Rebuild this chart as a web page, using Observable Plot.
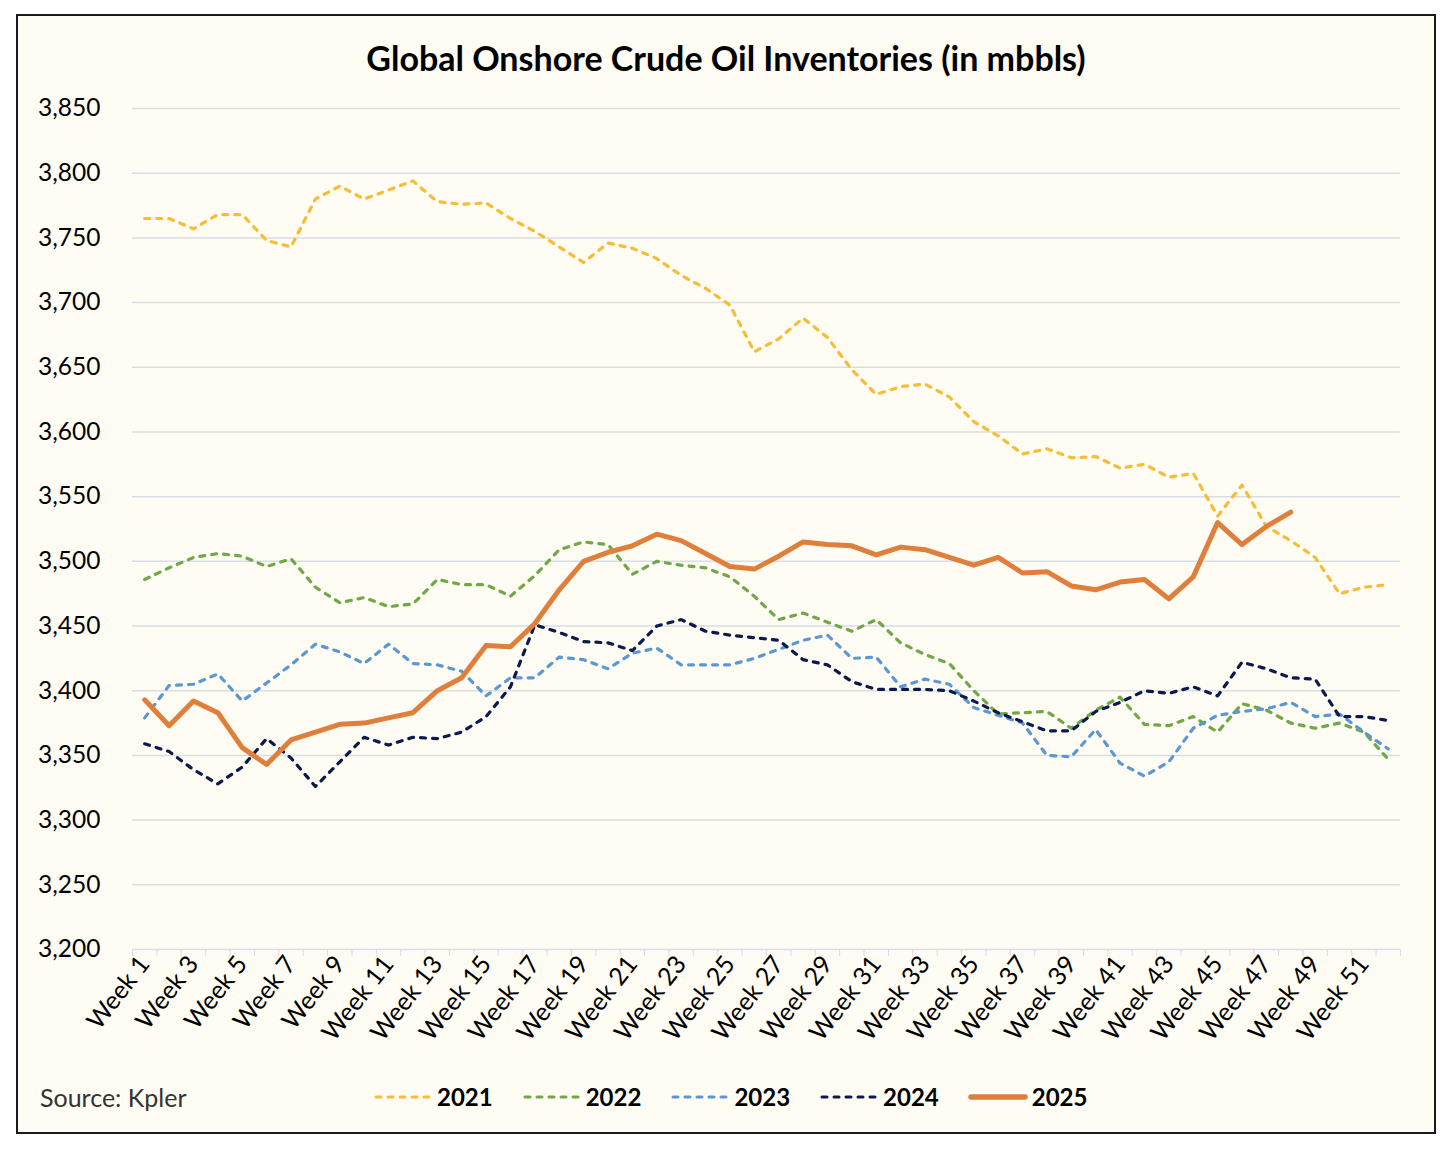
<!DOCTYPE html>
<html>
<head>
<meta charset="utf-8">
<script src="https://cdn.jsdelivr.net/npm/d3@7"></script>
<script src="https://cdn.jsdelivr.net/npm/@observablehq/plot@0.6"></script>
<style>
  html, body { margin: 0; padding: 0; background: #ffffff; }
  body { width: 1456px; height: 1156px; position: relative; font-family: Lato, "Open Sans", sans-serif; }
  #frame { position: absolute; left: 16px; top: 14px; width: 1420px; height: 1120px; box-sizing: border-box;
           border: 2px solid #1a1a1a; background: #FEFCF3; }
  #title { position: absolute; left: 0; top: 21px; width: 100%; text-align: center; font-weight: 700;
           font-size: 34px; color: #000; }
  #chart { position: absolute; left: 0; top: 60px; }
  #source { position: absolute; left: 22px; top: 1066px; font-size: 25px; color: #333; }
  #legend { position: absolute; left: 355px; top: 1066px; display: flex; align-items: center; gap: 29px; }
  .item { display: flex; align-items: center; gap: 4px; font-weight: 700; font-size: 24px; color: #000; }
</style>
</head>
<body>
<div id="frame">
  <div id="title">Global Onshore Crude Oil Inventories (in mbbls)</div>
  <div id="chart"></div>
  <div id="source">Source: Kpler</div>
  <div id="legend"></div>
</div>
<script>
const years = ["2021", "2022", "2023", "2024", "2025"];
const v2021 = [3765, 3765, 3757, 3768, 3768, 3748, 3743, 3780, 3790, 3780, 3787, 3794, 3778, 3776, 3777, 3765, 3755, 3743, 3731, 3746, 3742, 3734, 3721, 3711, 3698, 3662, 3672, 3688, 3673, 3648, 3629, 3635, 3637, 3627, 3608, 3597, 3583, 3587, 3580, 3581, 3572, 3575, 3565, 3568, 3535, 3559, 3527, 3516, 3503, 3475, 3480, 3482];
const v2022 = [3486, 3495, 3503, 3506, 3504, 3496, 3502, 3480, 3468, 3472, 3465, 3467, 3486, 3482, 3482, 3473, 3489, 3509, 3515, 3513, 3490, 3500, 3497, 3495, 3488, 3473, 3455, 3460, 3453, 3446, 3455, 3437, 3428, 3421, 3400, 3382, 3383, 3384, 3371, 3385, 3395, 3374, 3373, 3380, 3368, 3390, 3385, 3375, 3371, 3375, 3368, 3347];
const v2023 = [3379, 3404, 3405, 3413, 3392, 3406, 3420, 3436, 3430, 3421, 3436, 3421, 3420, 3415, 3396, 3410, 3410, 3426, 3424, 3417, 3429, 3433, 3420, 3420, 3420, 3425, 3432, 3439, 3443, 3425, 3426, 3403, 3409, 3405, 3387, 3381, 3375, 3350, 3349, 3370, 3344, 3334, 3345, 3371, 3381, 3384, 3386, 3391, 3380, 3382, 3368, 3355];
const v2024 = [3359, 3353, 3339, 3328, 3341, 3363, 3348, 3326, 3345, 3364, 3358, 3364, 3363, 3368, 3380, 3403, 3451, 3445, 3438, 3437, 3431, 3450, 3455, 3446, 3443, 3441, 3439, 3424, 3420, 3407, 3401, 3401, 3401, 3400, 3392, 3383, 3376, 3369, 3369, 3384, 3391, 3400, 3398, 3403, 3396, 3422, 3417, 3410, 3409, 3380, 3380, 3377];
const v2025 = [3393, 3373, 3392, 3383, 3356, 3343, 3362, 3368, 3374, 3375, 3379, 3383, 3400, 3410, 3435, 3434, 3452, 3478, 3500, 3507, 3512, 3521, 3516, 3506, 3496, 3494, 3504, 3515, 3513, 3512, 3505, 3511, 3509, 3503, 3497, 3503, 3491, 3492, 3481, 3478, 3484, 3486, 3471, 3488, 3530, 3513, 3527, 3538];
const yTicks = [3200, 3250, 3300, 3350, 3400, 3450, 3500, 3550, 3600, 3650, 3700, 3750, 3800, 3850];
const weekLabels = [1, 3, 5, 7, 9, 11, 13, 15, 17, 19, 21, 23, 25, 27, 29, 31, 33, 35, 37, 39, 41, 43, 45, 47, 49, 51];
const colors = ["#F5BE36", "#70A847", "#5B97D3", "#0B1A4E", "#E07E3C"];
const dashed = [true, true, true, true, false];

const valuesByYear = [v2021, v2022, v2023, v2024, v2025];
const series = years.map((yr, i) => ({
  year: yr, color: colors[i], dashed: dashed[i],
  rows: valuesByYear[i].map((v, j) => ({week: j + 1, value: v}))
}));
const nWeeks = v2021.length;
const boundaries = d3.range(0, nWeeks + 1).map(d => d + 0.5);

const lineMarks = series.map(s => Plot.lineY(s.rows, {
  x: "week", y: "value", stroke: s.color,
  strokeWidth: s.dashed ? 3.2 : 5,
  strokeDasharray: s.dashed ? "5,7" : null,
  strokeLinecap: "round",
  strokeLinejoin: "round"
}));

const chart = Plot.plot({
  width: 1416,
  height: 993,
  marginLeft: 114,
  marginRight: 34,
  marginTop: 32,
  marginBottom: 120,
  style: {background: "transparent", fontFamily: "Lato, 'Open Sans', sans-serif", color: "#000"},
  x: {domain: [0.5, nWeeks + 0.5]},
  y: {domain: [3200, 3850]},
  marks: [
    Plot.gridY(yTicks, {stroke: "#D8DDE6", strokeOpacity: 1, strokeWidth: 1.5}),
    Plot.axisY(yTicks, {tickSize: 0, tickPadding: 32, tickFormat: d3.format(","), fontSize: 24.5, label: null}),
    Plot.axisX(boundaries, {tickSize: 7, stroke: "#D8DDE6", strokeOpacity: 1, tickFormat: () => "", label: null}),
    Plot.axisX(weekLabels, {tickSize: 0, tickPadding: 10, tickRotate: -52, tickFormat: d => `Week ${d}`, fontSize: 25, label: null}),
    ...lineMarks
  ]
});
document.getElementById("chart").appendChild(chart);

const legend = document.getElementById("legend");
series.forEach(s => {
  const item = document.createElement("div");
  item.className = "item";
  const svg = d3.create("svg").attr("width", 60).attr("height", 12);
  svg.append("line").attr("x1", 3).attr("x2", 57).attr("y1", 6).attr("y2", 6)
    .attr("stroke", s.color).attr("stroke-width", s.dashed ? 3 : 5.5)
    .attr("stroke-linecap", "round")
    .attr("stroke-dasharray", s.dashed ? "5,7" : null);
  item.appendChild(svg.node());
  const t = document.createElement("span");
  t.textContent = s.year;
  item.appendChild(t);
  legend.appendChild(item);
});
</script>
</body>
</html>
